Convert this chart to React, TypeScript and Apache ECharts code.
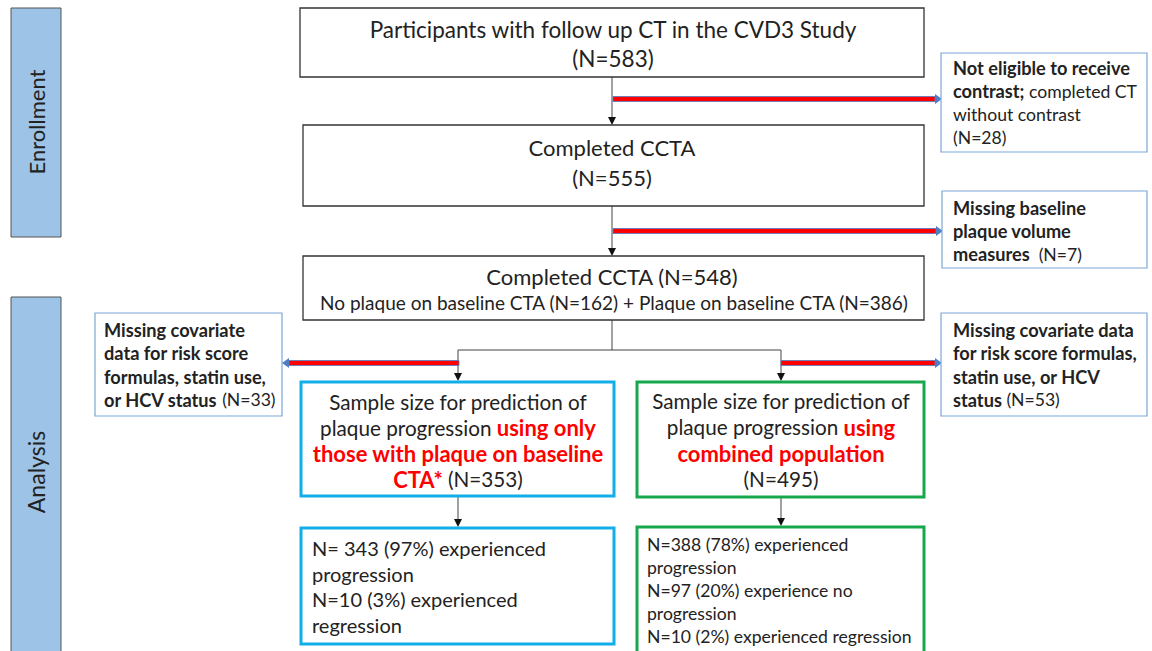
import React, { useEffect, useRef } from "react";
import * as echarts from "echarts";

const FONT = "Lato, 'Open Sans', sans-serif";

const stageLabels = ["Enrollment", "Analysis"];
const mainCounts = [583, 555, 548];
const baselineSplit = [162, 386];
const exclusionCounts = [28, 7, 33, 53];
const sampleCounts = [353, 495];
const blueOutcomes = [
  { n: 343, pct: 97 },
  { n: 10, pct: 3 },
];
const greenOutcomes = [
  { n: 388, pct: 78 },
  { n: 97, pct: 20 },
  { n: 10, pct: 2 },
];

const BLACK = "#222";
const LINE = "#444";

function rect(x: number, y: number, w: number, h: number, stroke: string, lw: number, fill = "#fff") {
  return { type: "rect", shape: { x, y, width: w, height: h }, style: { fill, stroke, lineWidth: lw } };
}

function text(x: number, y: number, t: string, opts: any = {}) {
  const fs = opts.fontSize || 16;
  const bfs = opts.boldSize || fs * 1.06;
  const lh = opts.lineHeight || fs * 1.4;
  return {
    type: "text",
    x,
    y,
    rotation: opts.rotation || 0,
    style: {
      text: t,
      fill: BLACK,
      fontSize: fs,
      fontFamily: FONT,
      align: opts.align || "left",
      verticalAlign: "middle",
      lineHeight: lh,
      rich: {
        n: { fontSize: fs, fontFamily: FONT, fill: BLACK, lineHeight: lh },
        b: { fontWeight: "bold", fontSize: bfs, fontFamily: FONT, fill: BLACK, lineHeight: lh },
        r: { fontWeight: "bold", fontSize: bfs, fontFamily: FONT, fill: "#ff0000", lineHeight: lh },
      },
    },
  };
}

function vline(x: number, y1: number, y2: number) {
  return { type: "line", shape: { x1: x, y1, x2: x, y2 }, style: { stroke: LINE, lineWidth: 1 } };
}
function hline(x1: number, x2: number, y: number) {
  return { type: "line", shape: { x1, y1: y, x2, y2: y }, style: { stroke: LINE, lineWidth: 1 } };
}
function arrowDown(x: number, y1: number, y2: number) {
  return [
    vline(x, y1, y2 - 7),
    { type: "polygon", shape: { points: [[x - 4, y2 - 8], [x + 4, y2 - 8], [x, y2]] }, style: { fill: "#111" } },
  ];
}
function redArrow(x1: number, x2: number, y: number) {
  const dir = x2 > x1 ? 1 : -1;
  const headStart = x2 - dir * 7;
  const left = Math.min(x1, headStart);
  const w = Math.abs(headStart - x1);
  return [
    { type: "rect", shape: { x: left, y: y - 2.5, width: w, height: 5 }, style: { fill: "#ff0000", stroke: "#4f7ec4", lineWidth: 0.8 } },
    {
      type: "polygon",
      shape: { points: [[headStart, y - 5], [headStart, y + 5], [x2, y]] },
      style: { fill: "#4f7ec4" },
    },
  ];
}

export default function App() {
  const ref = useRef<HTMLDivElement>(null);
  useEffect(() => {
    if (!ref.current) return;
    const chart = echarts.init(ref.current, undefined, { renderer: "svg" });
    const els: any[] = [];
    // stage bars
    els.push(rect(11, 8, 50, 229, "#555", 1, "#9dc3e6"));
    els.push(rect(11, 297, 50, 370, "#555", 1, "#9dc3e6"));
    els.push(text(36, 122, stageLabels[0], { fontSize: 22, align: "center", rotation: Math.PI / 2 }));
    els.push(text(36, 472, stageLabels[1], { fontSize: 23, align: "center", rotation: Math.PI / 2 }));

    // connectors
    els.push(...arrowDown(612, 77, 125));
    els.push(...arrowDown(612, 206, 256));
    els.push(vline(612, 320, 350));
    els.push(hline(458, 781, 350));
    els.push(...arrowDown(458, 350, 381));
    els.push(...arrowDown(781, 350, 381));
    els.push(...arrowDown(458, 497, 527));
    els.push(...arrowDown(781, 498, 526));
    els.push(...redArrow(613, 942, 99));
    els.push(...redArrow(613, 943, 231));
    els.push(...redArrow(459, 282, 363));
    els.push(...redArrow(781, 942, 363));

    // main boxes
    els.push(rect(300, 8, 624, 69, "#333", 1.3));
    els.push(text(613, 43.5, `Participants with follow up CT in the CVD3 Study\n(N=${mainCounts[0]})`, { fontSize: 22.5, align: "center", lineHeight: 29 }));
    els.push(rect(303, 125, 621, 81, "#333", 1.3));
    els.push(text(612, 162, `Completed CCTA\n(N=${mainCounts[1]})`, { fontSize: 22, align: "center", lineHeight: 30 }));
    els.push(rect(303, 256, 621, 64, "#333", 1.3));
    els.push(text(612, 276, `Completed CCTA (N=${mainCounts[2]})`, { fontSize: 22, align: "center" }));
    els.push(text(614, 302, `No plaque on baseline CTA (N=${baselineSplit[0]}) + Plaque on baseline CTA (N=${baselineSplit[1]})`, { fontSize: 19, align: "center" }));

    // exclusion boxes
    const EXB = "#7aa7d8";
    const EFS = 17.6;
    const EBS = 18.2;
    els.push(rect(941, 53, 206, 99, EXB, 1.2));
    els.push(text(953, 102.5, `{b|Not eligible to receive}\n{b|contrast;} completed CT\nwithout contrast\n(N=${exclusionCounts[0]})`, { fontSize: EFS, boldSize: EBS, lineHeight: 23 }));
    els.push(rect(942, 191, 205, 77, EXB, 1.2));
    els.push(text(953, 231, `{b|Missing baseline}\n{b|plaque volume}\n{b|measures}  (N=${exclusionCounts[1]})`, { fontSize: EFS, boldSize: EBS, lineHeight: 23 }));
    els.push(rect(95, 313, 187, 103, EXB, 1.2));
    els.push(text(104, 365, `{b|Missing covariate}\n{b|data for risk score}\n{b|formulas, statin use,}\n{b|or HCV status} (N=${exclusionCounts[2]})`, { fontSize: EFS, boldSize: EBS, lineHeight: 23.3 }));
    els.push(rect(941, 313, 206, 103, EXB, 1.2));
    els.push(text(953, 365, `{b|Missing covariate data}\n{b|for risk score formulas,}\n{b|statin use, or HCV}\n{b|status} (N=${exclusionCounts[3]})`, { fontSize: EFS, boldSize: EBS, lineHeight: 23.3 }));

    // sample boxes
    els.push(rect(301, 382, 313, 114, "#12aee8", 3));
    els.push(text(458, 440.5, `Sample size for prediction of\nplaque progression {r|using only}\n{r|those with plaque on baseline}\n{r|CTA*} (N=${sampleCounts[0]})`, { fontSize: 20.7, boldSize: 22, align: "center", lineHeight: 25.7 }));
    els.push(rect(637, 382, 287, 115, "#16a84a", 3));
    els.push(text(781, 440, `Sample size for prediction of\nplaque progression {r|using}\n{r|combined population}\n(N=${sampleCounts[1]})`, { fontSize: 20.7, boldSize: 22, align: "center", lineHeight: 26 }));

    // outcome boxes
    els.push(rect(301, 528, 313, 116, "#12aee8", 3));
    els.push(text(312, 586.5, `N= ${blueOutcomes[0].n} (${blueOutcomes[0].pct}%) experienced\nprogression\nN=${blueOutcomes[1].n} (${blueOutcomes[1].pct}%) experienced\nregression`, { fontSize: 20, lineHeight: 25.7 }));
    els.push(rect(637, 527, 287, 130, "#16a84a", 3));
    els.push(text(647, 590, `N=${greenOutcomes[0].n} (${greenOutcomes[0].pct}%) experienced\nprogression\nN=${greenOutcomes[1].n} (${greenOutcomes[1].pct}%) experience no\nprogression\nN=${greenOutcomes[2].n} (${greenOutcomes[2].pct}%) experienced regression`, { fontSize: 17.6, lineHeight: 23 }));

    chart.setOption({ animation: false, backgroundColor: "#fff", graphic: { elements: els } });
    return () => chart.dispose();
  }, []);
  return <div ref={ref} style={{ position: "absolute", left: 0, top: 0, width: 1152, height: 651 }} />;
}
